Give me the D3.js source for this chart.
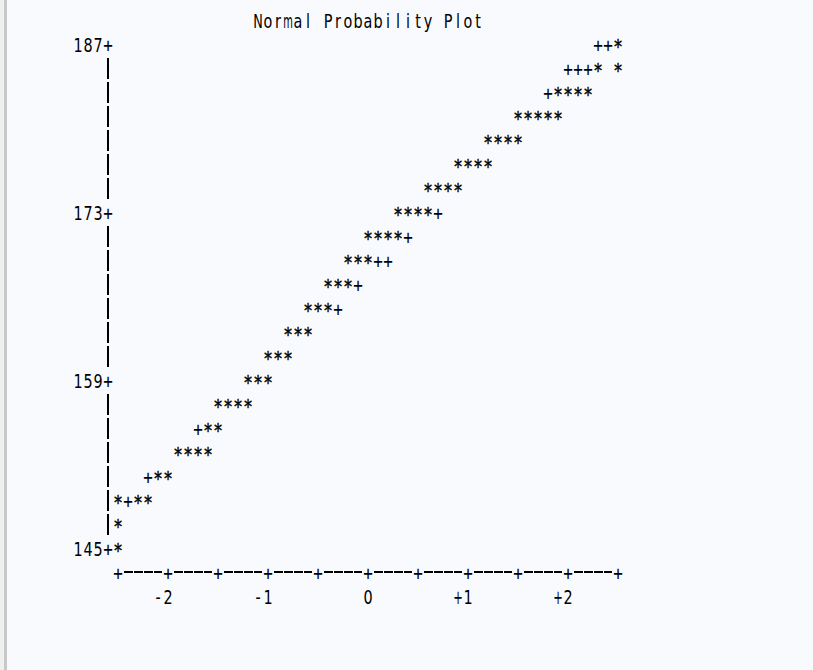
<!DOCTYPE html>
<html>
<head>
<meta charset="utf-8">
<script src="https://cdn.jsdelivr.net/npm/d3@7"></script>
<style>
  html, body { margin: 0; padding: 0; background: #f9fafe; }
  svg text { font-size: 20px; fill: #000; }
  .lbl { font-family: "DejaVu Sans Condensed", "DejaVu Sans", sans-serif; }
  .sym { font-family: "DejaVu Sans Mono", monospace; }
</style>
</head>
<body>
<svg id="chart"></svg>
<script>
// line printer style normal probability plot, one row per 2 units
const title = "Normal Probability Plot";
const rowValues = [187, 185, 183, 181, 179, 177, 175, 173, 171, 169, 167,
                   165, 163, 161, 159, 157, 155, 153, 151, 149, 147, 145];

// normal quantile of each "*" (observed) per row
const starQuantiles = [
  [2.5],
  [2.3, 2.5],
  [1.9, 2.0, 2.1, 2.2],
  [1.5, 1.6, 1.7, 1.8, 1.9],
  [1.2, 1.3, 1.4, 1.5],
  [0.9, 1.0, 1.1, 1.2],
  [0.6, 0.7, 0.8, 0.9],
  [0.3, 0.4, 0.5, 0.6],
  [0.0, 0.1, 0.2, 0.3],
  [-0.2, -0.1, 0.0],
  [-0.4, -0.3, -0.2],
  [-0.6, -0.5, -0.4],
  [-0.8, -0.7, -0.6],
  [-1.0, -0.9, -0.8],
  [-1.2, -1.1, -1.0],
  [-1.5, -1.4, -1.3, -1.2],
  [-1.6, -1.5],
  [-1.9, -1.8, -1.7, -1.6],
  [-2.1, -2.0],
  [-2.5, -2.3, -2.2],
  [-2.5],
  [-2.5]
];

// "+" = normal reference line, shown where no "*" covers it
const plusQuantiles = [
  [2.3, 2.4],
  [2.0, 2.1, 2.2],
  [1.8],
  [], [], [], [],
  [0.7],
  [0.4],
  [0.1, 0.2],
  [-0.1],
  [-0.3],
  [], [], [], [],
  [-1.7],
  [],
  [-2.2],
  [-2.4],
  [], []
];

const yTickValues = [145, 159, 173, 187];
const xTickValues = [-2, -1, 0, 1, 2];
const xTickLabels = ["-2", "-1", "0", "+1", "+2"];

const width = 813, height = 670;
const cell = 10, lineH = 24;

const svg = d3.select("#chart")
  .attr("width", width)
  .attr("height", height);

svg.append("rect").attr("width", width).attr("height", height).attr("fill", "#f9fafe");
svg.append("rect").attr("x", 0).attr("width", 4).attr("height", height).attr("fill", "#efeff0");
svg.append("rect").attr("x", 4).attr("width", 3).attr("height", height).attr("fill", "#c8c8c8");

const x = d3.scaleLinear().domain([-2.5, 2.5]).range([118, 618]);
const y = d3.scaleLinear().domain([145, 187]).range([548, 44]);

const g = svg.append("g");

// one character per print cell, squeezed to fit the cell
function putChar(px, py, ch, kind = "lbl", fill = "#000") {
  const base = kind === "star" ? 9 : kind === "plus" ? 8 : 7.5;
  const t = g.append("text")
    .attr("class", kind === "lbl" ? "lbl" : "sym")
    .attr("text-anchor", "middle")
    .attr("fill", fill)
    .text(ch);
  if (kind === "star") t.attr("stroke", "#000").attr("stroke-width", 0.5);
  const len = t.node().getComputedTextLength() || cell;
  const sx = Math.min(kind === "lbl" ? 0.8 : 0.9, 9.6 / len);
  t.attr("transform", `translate(${px},${py + base}) scale(${sx},1)`);
}

// title
const titleCol = 14;
title.split("").forEach((ch, i) => {
  if (ch !== " ") putChar(x(-2.5) + (titleCol + i) * cell, y(187) - lineH, ch);
});

// vertical axis
const axisX = x(-2.5) - cell;
rowValues.forEach(v => {
  if (yTickValues.includes(v)) {
    putChar(axisX, y(v), "+", "plus");
    const s = String(v);
    s.split("").forEach((ch, i) => putChar(axisX - (s.length - i) * cell, y(v), ch));
  } else {
    g.append("rect")
      .attr("x", axisX - 1)
      .attr("y", y(v) - 10)
      .attr("width", 2)
      .attr("height", 21)
      .attr("fill", "#000");
  }
});

// horizontal axis
const axisY = y(145) + lineH;
d3.range(0, 51).forEach(i => {
  const px = x.range()[0] + i * cell;
  if (i % 5 === 0) {
    putChar(px, axisY, "+", "plus", "#555");
  } else {
    g.append("rect")
      .attr("x", px - 4)
      .attr("y", axisY - 1)
      .attr("width", i % 5 === 4 ? 8 : 9)
      .attr("height", 2)
      .attr("fill", "#000");
  }
});

xTickValues.forEach((q, i) => {
  const s = xTickLabels[i];
  s.split("").forEach((ch, j) => putChar(x(q) - (s.length - 1 - j) * cell, axisY + lineH, ch));
});

// reference line then data
rowValues.forEach((v, r) => {
  plusQuantiles[r].forEach(q => putChar(x(q), y(v), "+", "plus"));
  starQuantiles[r].forEach(q => putChar(x(q), y(v), "*", "star"));
});
</script>
</body>
</html>
